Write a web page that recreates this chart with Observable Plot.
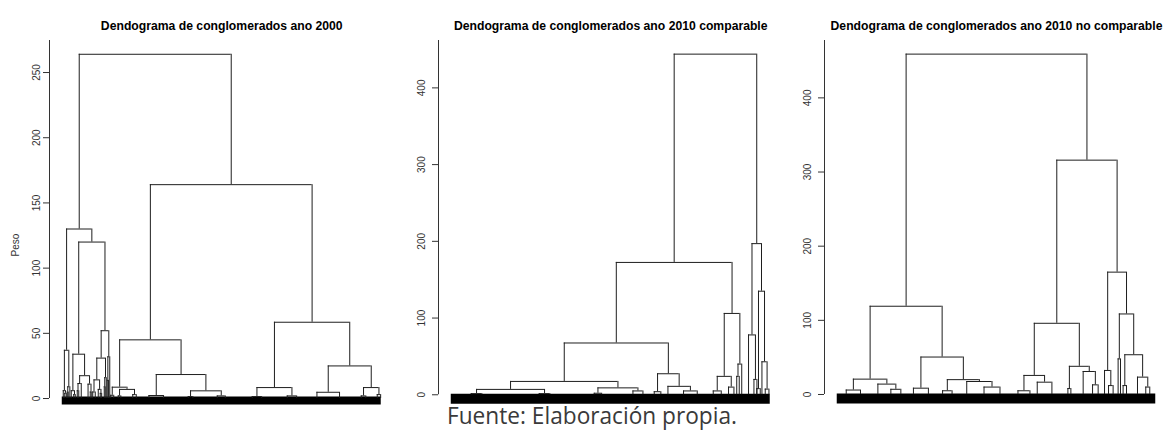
<!DOCTYPE html>
<html><head><meta charset="utf-8">
<script src="https://cdn.jsdelivr.net/npm/d3@7"></script>
<script src="https://cdn.jsdelivr.net/npm/@observablehq/plot@0.6"></script>
<style>
html,body{margin:0;padding:0;background:#fff}
body{width:1168px;height:431px;overflow:hidden;position:relative;font-family:"Liberation Sans",Arial,sans-serif}
.panel{position:absolute;top:0}
#caption{position:absolute;left:447px;top:404px;font-family:"Open Sans",sans-serif;font-size:23px;line-height:1;color:#3a3a3a;white-space:nowrap;transform-origin:0 0}
</style></head><body>
<div id="p1" class="panel" style="left:0px"></div>
<div id="p2" class="panel" style="left:390px"></div>
<div id="p3" class="panel" style="left:770px"></div>
<div id="caption">Fuente: Elaboración propia.</div>
<script>
// ---- data ----
const leafCount = 320; // leaf order positions 0 .. 319
const titles = [
  "Dendograma de conglomerados ano 2000",
  "Dendograma de conglomerados ano 2010 comparable",
  "Dendograma de conglomerados ano 2010 no comparable"
];
const yLabel = "Peso";
const ticks2000 = [0, 50, 100, 150, 200, 250];
const ticks2010c = [0, 100, 200, 300, 400];
const ticks2010nc = [0, 100, 200, 300, 400];

// merges: [id, height, left, right]; a number child is a leaf position in leaf order
const merges2000 = [
  ["A", 264, "B", "C"],
  ["B", 130, "B1", "B2"],
  ["B1", 37, "B1a", "B1b"],
  ["B1a", 6, 1, "B1a2"],
  ["B1a2", 4, 2.5, 4],
  ["B1b", 9, "B1b1", 7.6],
  ["B1b1", 5, 5, 6],
  ["B2", 120, "B2a", "B2b"],
  ["B2a", 34, "B2a1", "B2a2"],
  ["B2a1", 6, 9, "B2a1r"],
  ["B2a1r", 3, 11.5, 13],
  ["B2a2", 17.5, "B2a2l", "B2a2r"],
  ["B2a2l", 11.5, "B2a2l1", 19],
  ["B2a2l1", 6, 15, 16.5],
  ["B2a2r", 11, 25.8, "B2a2r2"],
  ["B2a2r2", 5, 28, 29.5],
  ["B2b", 52, "B2b1", "B2b2"],
  ["B2b1", 31, "B2b1a", "B2b1b"],
  ["B2b1a", 14.3, "B2b1a1", "B2b1a2"],
  ["B2b1a1", 5, 30.5, 33],
  ["B2b1a2", 7, 36, "B2b1a3"],
  ["B2b1a3", 4, 38, 39.4],
  ["B2b1b", 16, "B2b1b1", 44],
  ["B2b1b1", 9, 42, 43],
  ["B2b2", 32, "B2b2l", 47.5],
  ["B2b2l", 14, 45, 46.2],
  ["C", 164, "C1", "C2"],
  ["C1", 45, "C1a", "C1b"],
  ["C1a", 8.7, "C1a1", "C1a2"],
  ["C1a1", 2.5, 48.5, 51.5],
  ["C1a2", 7, "C1a2l", "C1a2r"],
  ["C1a2l", 2, 56, 58.6],
  ["C1a2r", 3, 70.5, 74],
  ["C1b", 18.4, "C1b1", "C1b2"],
  ["C1b1", 2.3, 86.7, 101.3],
  ["C1b2", 5.9, "C1b2l", "C1b2r"],
  ["C1b2l", 1.5, 126, 130.6],
  ["C1b2r", 2, 155, 163],
  ["C2", 58.5, "C2a", "C2b"],
  ["C2a", 8.4, "C2a1", "C2a2"],
  ["C2a1", 1.5, 190, 199.4],
  ["C2a2", 2, 225, 234.4],
  ["C2b", 25, "C2b1", "C2b2"],
  ["C2b1", 4.8, 254.7, 277.3],
  ["C2b2", 8.4, "C2b2l", "C2b2r"],
  ["C2b2l", 2, 299, 303.6],
  ["C2b2r", 3, 315, 318.4]
];

const merges2010c = [
  ["A", 444, "B", "C"],
  ["B", 172.5, "B1", "B2"],
  ["B1", 67.5, "B1a", "B1b"],
  ["B1a", 17.4, "B1a1", "B1a2"],
  ["B1a1", 7, "B1a1l", "B1a1r"],
  ["B1a1l", 1.5, 20, 30.6],
  ["B1a1r", 1.5, 88, 98.6],
  ["B1a2", 9, "B1a2l", "B1a2r"],
  ["B1a2l", 2, 143, 150.4],
  ["B1a2r", 5, 181.7, 191.7],
  ["B1b", 27.4, "B1b1", "B1b2"],
  ["B1b1", 4, 203, 209.6],
  ["B1b2", 11, 216.7, "B1b2r"],
  ["B1b2r", 5, 232.3, 246],
  ["B2", 106, "B2a", "B2b"],
  ["B2a", 24, "B2a1", "B2a2"],
  ["B2a1", 5, 262, 270],
  ["B2a2", 10, 277.3, 282.7],
  ["B2b", 40, "B2b1", 290.5],
  ["B2b1", 24, 285.5, 288],
  ["C", 197, "C1", "C2"],
  ["C1", 78, 297.3, "C1r"],
  ["C1r", 20, 302.7, 305.7],
  ["C2", 135, "C2l", "C2r"],
  ["C2l", 8, 305.5, 309],
  ["C2r", 43, 310.7, "C2r2"],
  ["C2r2", 7.4, 314, 317.7]
];

const merges2010nc = [
  ["A", 459, "B", "C"],
  ["B", 119, "B1", "B2"],
  ["B1", 20.7, "B1a", "B1b"],
  ["B1a", 6, 9, 23.3],
  ["B1b", 14, 40.7, "B1b2"],
  ["B1b2", 7, 53.7, 63.7],
  ["B2", 50.5, "B2a", "B2b"],
  ["B2a", 8.5, 76.3, 91.3],
  ["B2b", 20, "B2b1", "B2b2"],
  ["B2b1", 5, 105.5, 115],
  ["B2b2", 17.5, 129.7, "B2b2r"],
  ["B2b2r", 10, 147, 163],
  ["C", 316, "C1", "C2"],
  ["C1", 96, "C1a", "C1b"],
  ["C1a", 25.7, "C1a1", "C1a2"],
  ["C1a1", 5, 181, 193],
  ["C1a2", 16.6, 200.3, 215],
  ["C1b", 38, "C1b1", "C1b2"],
  ["C1b1", 8, 231, 234],
  ["C1b2", 31, 246.3, "C1b2r"],
  ["C1b2r", 13, 255.7, 261.3],
  ["C2", 165, "C2a", "C2b"],
  ["C2a", 32.4, 267.7, "C2a2"],
  ["C2a2", 12, 271.7, 276.3],
  ["C2b", 108.6, "C2b1", "C2b2"],
  ["C2b1", 48, 281.3, 283.7],
  ["C2b2", 53.6, "C2b2l", "C2b2r"],
  ["C2b2l", 12, 286.3, 289.7],
  ["C2b2r", 23.4, 300.7, "C2b2r2"],
  ["C2b2r2", 10, 309, 313]
];

// ---- layout (R hclust style: node x = midpoint of its two children) ----
function layout(merges) {
  const byId = new Map(merges.map(m => [m[0], m]));
  const horiz = [], vert = [];
  function place(c) {
    if (typeof c === "number") return {x: c, h: 0};
    const [id, h, l, r] = byId.get(c);
    const L = place(l), R = place(r);
    horiz.push({x1: L.x, x2: R.x, y: h});
    vert.push({x: L.x, y1: L.h, y2: h}, {x: R.x, y1: R.h, y2: h});
    return {x: (L.x + R.x) / 2, h};
  }
  place(merges[0][0]);
  return {horiz, vert, top: d3.max(merges, m => m[1])};
}

const ink = "#1e1e1e";
function dendro({title, merges, ticks, label, width, marginLeft, marginRight, marginBottom, bandWidth, bandDy, tickPadding}) {
  const {horiz, vert, top} = layout(merges);
  const n = leafCount - 1;
  const xDom = [-0.04 * n, 1.04 * n];
  const yDom = [-0.04 * top, 1.04 * top];
  const marks = [
    Plot.ruleY([{y: 0, x1: 0, x2: n}], {y: "y", x1: "x1", x2: "x2", stroke: "#000", strokeWidth: bandWidth, dy: bandDy}),
    Plot.ruleX(vert, {x: "x", y1: "y1", y2: "y2", stroke: ink, strokeWidth: 1}),
    Plot.ruleY(horiz, {y: "y", x1: "x1", x2: "x2", stroke: ink, strokeWidth: 1}),
    Plot.ruleX([{x: xDom[0], y1: 0, y2: yDom[1]}], {x: "x", y1: "y1", y2: "y2", stroke: "#333"}),
    Plot.axisY({ticks, tickSize: 6, tickRotate: -90, tickPadding, fontSize: 10, label: null, stroke: "#333", color: "#333"}),
    Plot.text([title], {frameAnchor: "top", dy: -19, fontWeight: "bold", fontSize: 12.2, fill: "#000"})
  ];
  if (label) marks.push(Plot.text([label], {frameAnchor: "left", dx: -34, dy: 30, rotate: -90, fontSize: 10, fill: "#333"}));
  return Plot.plot({
    width, height: 431, marginTop: 40, marginBottom, marginLeft, marginRight,
    style: {fontFamily: "Liberation Sans, Arial, sans-serif", background: "transparent", overflow: "visible"},
    x: {domain: xDom, axis: null},
    y: {domain: yDom, axis: null},
    marks
  });
}

document.getElementById("p1").append(dendro({title: titles[0], merges: merges2000, ticks: ticks2000, label: yLabel,
  width: 400, marginLeft: 49, marginRight: 6.5, marginBottom: 19.2, bandWidth: 8, bandDy: 2, tickPadding: 4}));
document.getElementById("p2").append(dendro({title: titles[1], merges: merges2010c, ticks: ticks2010c,
  width: 400, marginLeft: 48, marginRight: 7.5, marginBottom: 23.1, bandWidth: 10, bandDy: 4, tickPadding: 8}));
document.getElementById("p3").append(dendro({title: titles[2], merges: merges2010nc, ticks: ticks2010nc,
  width: 398, marginLeft: 54, marginRight: 0, marginBottom: 23.4, bandWidth: 10, bandDy: 4, tickPadding: 8}));

const cap = document.getElementById("caption");
const w = cap.getBoundingClientRect().width;
cap.style.transform = `scaleX(${290 / w})`;
</script>
</body></html>
